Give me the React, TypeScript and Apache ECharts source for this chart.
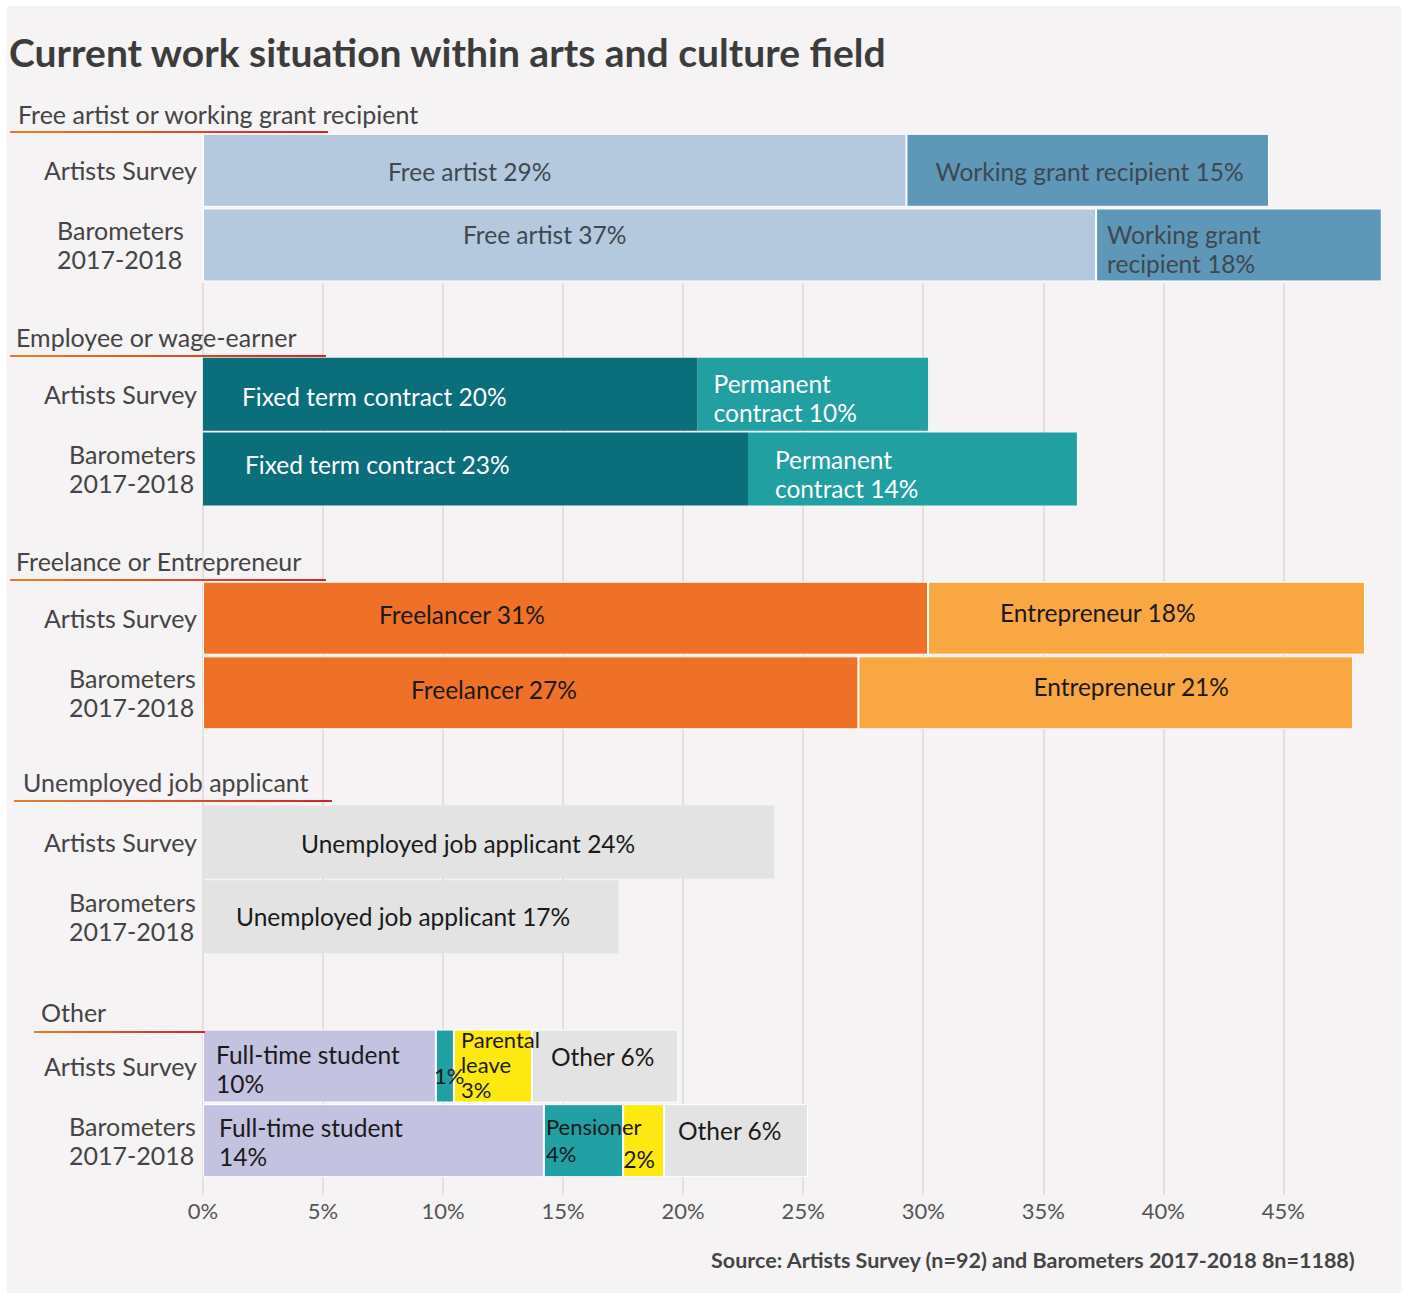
import React, { useEffect, useRef } from "react";
import * as echarts from "echarts";

// ---------- data ----------
const groups = [
  "Free artist or working grant recipient",
  "Employee or wage-earner",
  "Freelance or Entrepreneur",
  "Unemployed job applicant",
  "Other",
];
const rowNames = ["Artists Survey", "Barometers 2017-2018"];
const xTicks = [0, 5, 10, 15, 20, 25, 30, 35, 40, 45];

// bar segment lengths as drawn in the picture (% of respondents)
const artistsSurvey = [
  [29.3, 15.1],
  [20.6, 9.6],
  [30.2, 18.2],
  [23.8],
  [9.7, 0.75, 3.25, 6.1],
];
const barometers = [
  [37.2, 11.9],
  [22.7, 13.7],
  [27.3, 20.6],
  [17.3],
  [14.2, 3.3, 1.7, 6.0],
];
const artistsSurveyLabels = [
  ["Free artist 29%", "Working grant recipient 15%"],
  ["Fixed term contract 20%", "Permanent\ncontract 10%"],
  ["Freelancer 31%", "Entrepreneur 18%"],
  ["Unemployed job applicant 24%"],
  ["Full-time student\n10%", "1%", "Parental\nleave\n3%", "Other 6%"],
];
const barometersLabels = [
  ["Free artist 37%", "Working grant\nrecipient 18%"],
  ["Fixed term contract 23%", "Permanent\ncontract 14%"],
  ["Freelancer 27%", "Entrepreneur 21%"],
  ["Unemployed job applicant 17%"],
  ["Full-time student\n14%", "Pensioner\n4%", "2%", "Other 6%"],
];
const title = "Current work situation within arts and culture field";
const source = "Source: Artists Survey (n=92) and Barometers 2017-2018 8n=1188)";

// ---------- styles / layout ----------
const FONT = "Lato, 'Open Sans', sans-serif";
const OX = 7;
const OY = 6;
const W = 1394;
const H = 1287;
const X_MAX = 49.9;
const segColors = [
  ["#b4c9de", "#5e97b8"],
  ["#0a6e7b", "#229fa1"],
  ["#ef7128", "#f9a742"],
  ["#e3e3e3"],
  ["#c4c2e1", "#229fa2", "#fde910", "#e3e3e3"],
];
const textColors = [
  ["#3f4850", "#3f4850"],
  ["#ffffff", "#ffffff"],
  ["#1a1a1a", "#1a1a1a"],
  ["#1a1a1a"],
  ["#1a1a1a", "#1a1a1a", "#1a1a1a", "#1a1a1a"],
];
const whiteBorder = [true, false, true, false, true];
// label offsets [dx from segment start, dy from bar centre]
const asLabelPos = [
  [[185, 1], [29, 1]],
  [[39, 2], [16, 4]],
  [[176, -4], [72, -6]],
  [[98, 1]],
  [[13, 3], [-2, 9], [7, -2], [19, -10]],
];
const baLabelPos = [
  [[260, -10], [11, 4]],
  [[42, -4], [27, 5]],
  [[208, -3], [175, -6]],
  [[33, 0]],
  [[16, 1], [2, -1], [0, 18], [14, -10]],
];
const smallLabel: Record<string, [number, number]> = {
  "4-0-1": [22, 25],
  "4-0-2": [22, 25],
  "4-1-1": [22, 27],
  "4-1-2": [23, 27],
};
const headerPos = [
  { tx: 18, ty: 115, x1: 10, x2: 328, ly: 132 },
  { tx: 16, ty: 338, x1: 10, x2: 326, ly: 356 },
  { tx: 16, ty: 562, x1: 10, x2: 326, ly: 580 },
  { tx: 23, ty: 783, x1: 14, x2: 332, ly: 801 },
  { tx: 41, ty: 1013, x1: 34, x2: 205, ly: 1032 },
];

function buildOption() {
  const cats: string[] = [];
  groups.forEach((g, gi) => {
    cats.push(`${gi}|0`);
    cats.push(`${gi}|1`);
    if (gi < groups.length - 1) cats.push(`${gi}|gap`);
  });

  const series: any[] = [];
  for (let s = 0; s < 4; s++) {
    const data = cats.map((c) => {
      const [gs, r] = c.split("|");
      if (r === "gap") return "-";
      const gi = Number(gs);
      const ri = Number(r);
      const vals = ri === 0 ? artistsSurvey[gi] : barometers[gi];
      if (s >= vals.length) return "-";
      const labels = ri === 0 ? artistsSurveyLabels[gi] : barometersLabels[gi];
      const pos = ri === 0 ? asLabelPos[gi][s] : baLabelPos[gi][s];
      const sm = smallLabel[`${gi}-${ri}-${s}`];
      return {
        value: vals[s],
        itemStyle: {
          color: segColors[gi][s],
          borderColor: whiteBorder[gi] ? "#ffffff" : segColors[gi][s],
          borderWidth: whiteBorder[gi] ? 1 : 0,
        },
        label: {
          show: true,
          position: "insideLeft",
          distance: 0,
          offset: pos,
          formatter: labels[s],
          color: textColors[gi][s],
          fontSize: sm ? sm[0] : 24.5,
          lineHeight: sm ? sm[1] : 29,
          fontFamily: FONT,
          align: "left",
        },
      };
    });
    series.push({
      type: "bar",
      stack: "total",
      barWidth: 73,
      clip: false,
      xAxisIndex: 0,
      yAxisIndex: 0,
      data,
    });
  }
  // empty series so the gridline axis pair is rendered
  series.push({ type: "scatter", xAxisIndex: 1, yAxisIndex: 1, data: [] });

  const graphic: any[] = [];
  groups.forEach((g, gi) => {
    const p = headerPos[gi];
    graphic.push({
      type: "text",
      left: p.tx - OX,
      top: p.ty - OY - 14,
      z: 100,
      style: { text: g, fill: "#444444", font: `25px ${FONT}` },
    });
    graphic.push({
      type: "rect",
      z: 100,
      shape: { x: p.x1 - OX, y: p.ly - OY - 1, width: p.x2 - p.x1, height: 2 },
      style: {
        fill: new echarts.graphic.LinearGradient(0, 0, 1, 0, [
          { offset: 0, color: "#ea7d24" },
          { offset: 1, color: "#d1232f" },
        ]),
      },
    });
  });
  graphic.push({
    type: "text",
    left: 9 - OX,
    top: 55 - OY - 23,
    style: { text: title, fill: "#3c3c3c", font: `bold 39px ${FONT}` },
  });
  graphic.push({
    type: "text",
    right: 1401 - 1356,
    top: 1261 - OY - 12,
    style: { text: source, fill: "#444444", font: `bold 21.5px ${FONT}` },
  });

  const gridLeft = 203 - OX;
  const gridWidth = W - gridLeft;

  return {
    animation: false,
    backgroundColor: "#f5f3f4",
    grid: [
      { left: gridLeft, top: 133 - OY, width: gridWidth, height: 1045 },
      { left: gridLeft, top: 283 - OY, width: gridWidth, height: 912 },
    ],
    xAxis: [
      {
        type: "value",
        gridIndex: 0,
        min: 0,
        max: X_MAX,
        show: false,
        splitLine: { show: false },
      },
      {
        type: "value",
        gridIndex: 1,
        min: 0,
        max: X_MAX,
        interval: 5,
        axisLine: { show: false },
        axisTick: { show: false },
        splitLine: {
          show: true,
          showMaxLine: false,
          lineStyle: { color: "#e2e0e1", width: 2 },
        },
        axisLabel: {
          margin: 4,
          fontSize: 22,
          color: "#555555",
          fontFamily: FONT,
          showMaxLabel: false,
          formatter: (v: number) => (xTicks.indexOf(v) >= 0 ? `${v}%` : ""),
        },
      },
    ],
    yAxis: [
      {
        type: "category",
        gridIndex: 0,
        inverse: true,
        data: cats,
        axisLine: { show: false },
        axisTick: { show: false },
        splitLine: { show: false },
        axisLabel: {
          interval: 0,
          margin: 6,
          align: "right",
          formatter: (v: string) => {
            const [gs, r] = v.split("|");
            if (r === "gap") return "";
            if (r === "0") return `{a|${rowNames[0]}}`;
            const st = gs === "0" ? "b1" : "b";
            const parts = rowNames[1].split(" ");
            return `{${st}|${parts[0]}}\n{${st}|${parts[1]}}`;
          },
          rich: {
            a: { fontSize: 25, color: "#444444", fontFamily: FONT },
            b: { fontSize: 25, color: "#444444", fontFamily: FONT, width: 128, align: "left", lineHeight: 29 },
            b1: { fontSize: 25, color: "#444444", fontFamily: FONT, width: 140, align: "left", lineHeight: 29 },
          },
        },
      },
      {
        type: "value",
        gridIndex: 1,
        min: 0,
        max: 1,
        show: false,
        splitLine: { show: false },
      },
    ],
    graphic,
    series,
  };
}

export default function App() {
  const ref = useRef<HTMLDivElement>(null);
  useEffect(() => {
    if (!ref.current) return;
    const chart = echarts.init(ref.current, null, { renderer: "svg" });
    chart.setOption(buildOption());
    return () => chart.dispose();
  }, []);
  return (
    <div
      ref={ref}
      style={{ position: "absolute", left: OX, top: OY, width: W, height: H }}
    />
  );
}
